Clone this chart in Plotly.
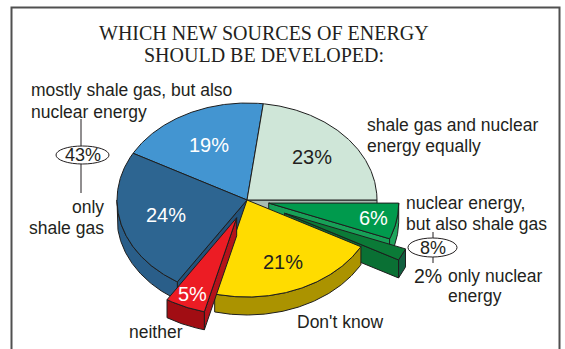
import numpy as np
import plotly.graph_objects as go

# ---- data -------------------------------------------------------------
categories = [
    "shale gas and nuclear energy equally",
    "nuclear energy, but also shale gas",
    "only nuclear energy",
    "Don't know",
    "neither",
    "only shale gas",
    "mostly shale gas, but also nuclear energy",
]
shares = [23, 6, 2, 21, 5, 24, 19]
shale_group = ["only shale gas", "mostly shale gas, but also nuclear energy"]
nuclear_group = ["nuclear energy, but also shale gas", "only nuclear energy"]
title_lines = ["WHICH NEW SOURCES OF ENERGY", "SHOULD BE DEVELOPED:"]

# ---- styling ----------------------------------------------------------
top_colors = ["#cfe6d8", "#009a4d", "#0b7a37", "#ffdc00", "#ec1c24", "#2d6591", "#4395d1"]
wall_colors = ["#a9bcb1", "#1fa55c", "#115f3f", "#ab9300", "#a10d13", "#2a5e89", "#3a80b5"]
face_colors = ["#a9bcb1", "#17a057", "#0a7034", "#ab9300", "#b5121a", "#22527b", "#3a80b5"]
text_colors = ["#231f20", "white", "white", "#231f20", "white", "white", "white"]
pulls = [0.0, 0.17, 0.32, 0.0, 0.20, 0.0, 0.0]
label_r = [0.67, 0.82, None, 0.70, 0.86, 0.64, 0.64]

W, H = 565, 349
CX, CY, RX, RY, DEPTH = 247, 200, 130, 97, 18
START = 82.8            # angle (deg) where the first slice begins, going clockwise
EDGE = "#1e1e1e"
SANS = "Liberation Sans, Arial, sans-serif"
SERIF = "Liberation Serif, Times New Roman, serif"
INK = "#231f20"


def point(t, r, ox, oy, dz=0.0):
    a = np.radians(t)
    return CX + ox + RX * r * np.cos(a), CY + oy - RY * r * np.sin(a) + dz


def arc(t0, t1, ox, oy, dz=0.0):
    n = max(2, int(abs(t1 - t0) * 2) + 1)
    ts = np.linspace(t0, t1, n)
    return point(ts, 1.0, ox, oy, dz)


def poly(xs, ys, color):
    return go.Scatter(
        x=list(xs), y=list(ys), mode="lines", fill="toself",
        fillcolor=color, line=dict(color=EDGE, width=1),
        hoverinfo="skip", showlegend=False,
    )


# slice angle ranges
total = sum(shares)
slices = []
acc = 0.0
for i, v in enumerate(shares):
    hi = START - acc / total * 360
    lo = hi - v / total * 360
    acc += v
    mid = (hi + lo) / 2
    p = pulls[i]
    ox = RX * p * np.cos(np.radians(mid))
    oy = -RY * p * np.sin(np.radians(mid))
    slices.append(dict(i=i, hi=hi, lo=lo, mid=mid, ox=ox, oy=oy))

n = len(shares)
order = sorted(slices, key=lambda s: s["oy"] - 0.5 * RY * np.sin(np.radians(s["mid"])))

fig = go.Figure()
for s in order:
    i, hi, lo, ox, oy = s["i"], s["hi"], s["lo"], s["ox"], s["oy"]
    prev_i, next_i = (i - 1) % n, (i + 1) % n

    # radial cut faces, drawn only where they can be seen
    faces = []
    if np.cos(np.radians(hi)) < 0 and (pulls[i] > 0 or pulls[prev_i] > 0):
        faces.append(hi)
    if np.cos(np.radians(lo)) > 0 and (pulls[i] > 0 or pulls[next_i] > 0):
        faces.append(lo)
    for t in faces:
        c0 = point(t, 0.0, ox, oy)
        r0 = point(t, 1.0, ox, oy)
        fig.add_trace(poly(
            [c0[0], r0[0], r0[0], c0[0], c0[0]],
            [c0[1], r0[1], r0[1] + DEPTH, c0[1] + DEPTH, c0[1]],
            face_colors[i]))

    # outer wall on the front half of the rim
    for k in range(-2, 2):
        a0, a1 = max(lo, -180 + 360 * k), min(hi, 360 * k)
        if a1 - a0 > 0.05:
            tx, ty = arc(a1, a0, ox, oy)
            bx, by = arc(a0, a1, ox, oy, DEPTH)
            fig.add_trace(poly(
                np.concatenate([tx, bx, tx[:1]]),
                np.concatenate([ty, by, ty[:1]]),
                wall_colors[i]))

    # top face
    c = point(0, 0.0, ox, oy)
    ax, ay = arc(hi, lo, ox, oy)
    fig.add_trace(poly(
        np.concatenate([[c[0]], ax, [c[0]]]),
        np.concatenate([[c[1]], ay, [c[1]]]),
        top_colors[i]))

annotations = []

# percentage labels on the slices
for s in slices:
    i = s["i"]
    if label_r[i] is None:
        continue
    lx, ly = point(s["mid"], label_r[i], s["ox"], s["oy"])
    annotations.append(dict(
        x=float(lx), y=float(ly), text=f"{shares[i]}%", showarrow=False,
        font=dict(family=SANS, size=20, color=text_colors[i]),
        xanchor="center", yanchor="middle"))

# title
for txt, ty in zip(title_lines, [32.5, 55]):
    annotations.append(dict(
        x=263.5, y=ty, text=txt, showarrow=False,
        font=dict(family=SERIF, size=20, color=INK),
        xanchor="center", yanchor="middle"))


def label(txt, x, y, anchor="left", size=17.5):
    annotations.append(dict(
        x=x, y=y, text=txt, showarrow=False,
        font=dict(family=SANS, size=size, color=INK),
        xanchor=anchor, yanchor="middle"))


label("mostly shale gas, but also", 29, 90)
label("nuclear energy", 29, 112)
label("only", 106, 207, "right")
label("shale gas", 106, 228, "right")
label("shale gas and nuclear", 365, 125)
label("energy equally", 365, 146)
label("nuclear energy,", 404, 203)
label("but also shale gas", 404, 224)
label(f"{shares[categories.index('only nuclear energy')]}%", 428, 276, "center", 19.5)
label("only nuclear", 446, 276)
label("energy", 446, 296)
label("Don't know", 340, 322, "center")
label("neither", 156, 332, "center")

shale_total = sum(shares[categories.index(c)] for c in shale_group)
nuclear_total = sum(shares[categories.index(c)] for c in nuclear_group)
label(f"{shale_total}%", 82.5, 155, "center", 18)
label(f"{nuclear_total}%", 432.5, 247.5, "center", 18)

shapes = [
    # frame
    dict(type="rect", x0=11.5, y0=7.5, x1=559.5, y1=380,
         line=dict(color="#505050", width=2)),
    # group bubbles with connectors
    dict(type="circle", x0=56, x1=109, y0=146, y1=164, line=dict(color=INK, width=1)),
    dict(type="line", x0=81, x1=81, y0=119, y1=146, line=dict(color=INK, width=1)),
    dict(type="line", x0=81, x1=81, y0=164, y1=193, line=dict(color=INK, width=1)),
    dict(type="circle", x0=408, x1=457, y0=238, y1=257, line=dict(color=INK, width=1)),
    dict(type="line", x0=433, x1=433, y0=232, y1=238, line=dict(color=INK, width=1)),
    dict(type="line", x0=433, x1=433, y0=257, y1=263, line=dict(color=INK, width=1)),
]

fig.update_layout(
    width=W, height=H,
    margin=dict(l=0, r=0, t=0, b=0),
    paper_bgcolor="white", plot_bgcolor="white",
    xaxis=dict(range=[0, W], visible=False, fixedrange=True),
    yaxis=dict(range=[H, 0], visible=False, fixedrange=True),
    showlegend=False,
    annotations=annotations,
    shapes=shapes,
)

fig.write_html("out.html")
